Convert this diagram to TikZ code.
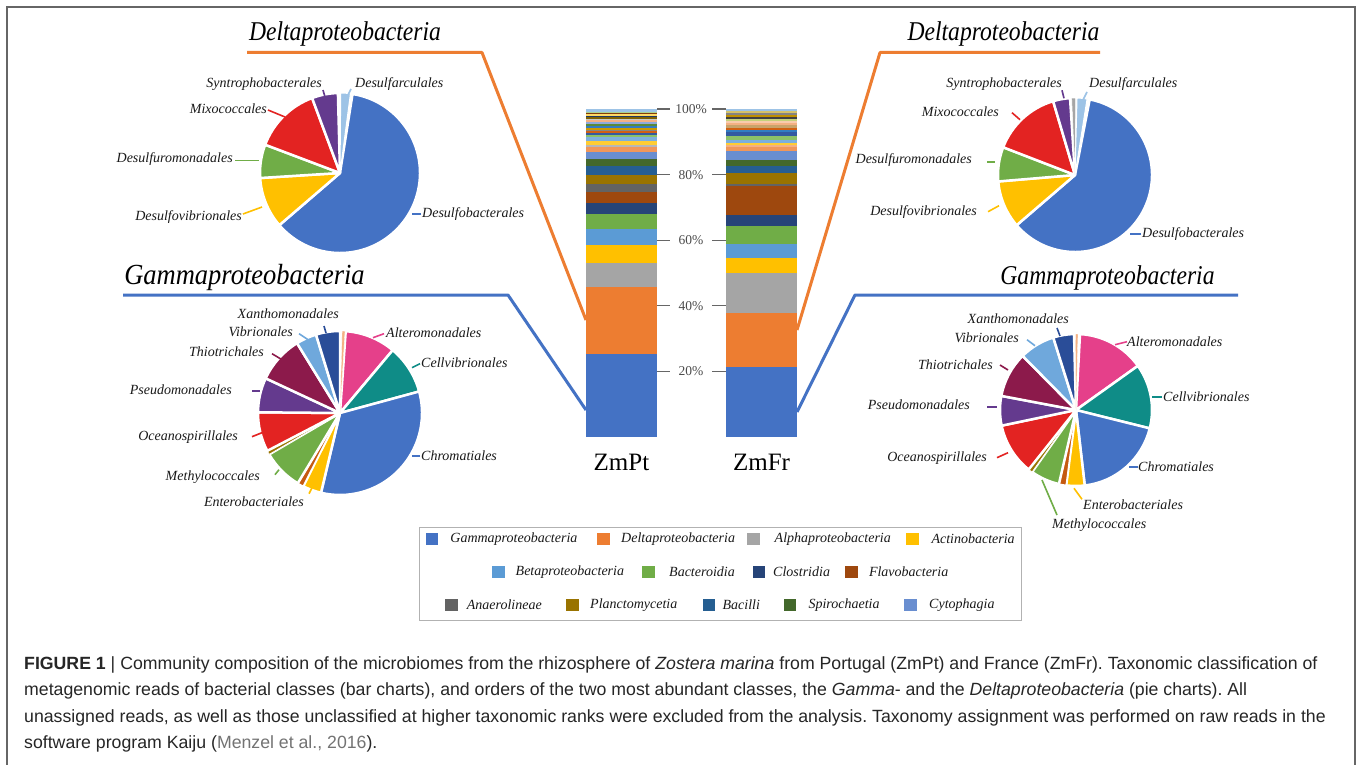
\documentclass[tikz,border=0pt]{standalone}
\usepackage{fontspec}
\setmainfont{Liberation Serif}
\setsansfont{Liberation Sans}

\definecolor{cgam}{HTML}{4472C4}
\definecolor{cdel}{HTML}{ED7D31}
\definecolor{calp}{HTML}{A5A5A5}
\definecolor{cact}{HTML}{FFC000}
\definecolor{cbet}{HTML}{5B9BD5}
\definecolor{cbac}{HTML}{70AD47}
\definecolor{cclo}{HTML}{264478}
\definecolor{cfla}{HTML}{9E480E}
\definecolor{cana}{HTML}{636363}
\definecolor{cpla}{HTML}{997300}
\definecolor{cbai}{HTML}{255E91}
\definecolor{cspi}{HTML}{43682B}
\definecolor{ccyt}{HTML}{698ED0}
\definecolor{pred}{HTML}{E32322}
\definecolor{ppur}{HTML}{643A8E}
\definecolor{plbl}{HTML}{9DC3E6}
\definecolor{ppink}{HTML}{E5408A}
\definecolor{pteal}{HTML}{0F8C87}
\definecolor{pbrn}{HTML}{C55A11}
\definecolor{pmar}{HTML}{8C1A4B}
\definecolor{pvib}{HTML}{6FA8DC}
\definecolor{pnav}{HTML}{2A4D98}
\definecolor{ppea}{HTML}{F4B183}
\definecolor{s1}{HTML}{F1975A}
\definecolor{s2}{HTML}{B7B7B7}
\definecolor{s3}{HTML}{FFCD33}
\definecolor{s4}{HTML}{7CAFDD}
\definecolor{s5}{HTML}{8CC168}
\definecolor{s6}{HTML}{335AA1}
\definecolor{s7}{HTML}{D26012}
\definecolor{s8}{HTML}{848484}
\definecolor{s9}{HTML}{CC9A00}
\definecolor{s10}{HTML}{327DC2}
\definecolor{s11}{HTML}{5A8A39}
\definecolor{s12}{HTML}{8FAADC}
\definecolor{s13}{HTML}{F4B183}
\definecolor{s14}{HTML}{C9C9C9}
\definecolor{s15}{HTML}{7F6000}
\definecolor{s16}{HTML}{1F3864}
\definecolor{s17}{HTML}{FFD966}
\definecolor{s18}{HTML}{843C0C}
\definecolor{s19}{HTML}{A9D18E}
\definecolor{s20}{HTML}{9DC3E6}
\definecolor{s21}{HTML}{F8CBAD}
\definecolor{s22}{HTML}{404040}
\definecolor{s23}{HTML}{BF9000}
\definecolor{s24}{HTML}{D4C36A}
\definecolor{s25}{HTML}{C9A36B}
\definecolor{s26}{HTML}{C5D27A}

\newcommand{\piepart}[6]{%
  \fill[#5,draw=white,line width=#6,line join=round] (#1) -- ++({-(#3)}:#2)
    arc[start angle={-(#3)}, end angle={-(#4)}, radius=#2] -- cycle;}

\begin{document}
\begin{tikzpicture}[x=1pt,y=-1pt,
    lbl/.style={font=\fontsize{14}{16}\selectfont\itshape,text=black!90,inner sep=0pt},
    ttl/.style={font=\fontsize{23.6}{26}\selectfont\itshape,inner sep=0pt},
    ldr/.style={line width=1.6pt},
    dline/.style={line width=3pt,line join=round},
    axl/.style={font=\fontsize{13.5}{15}\selectfont,text=black!70,inner sep=0pt},
    tick/.style={black!60,line width=1.2pt},
    leg/.style={font=\fontsize{14}{16}\selectfont\itshape,text=black!90,inner sep=0pt},
    captxt/.style={font=\sffamily\fontsize{17.7}{20}\selectfont\frenchspacing,text=black!85,inner sep=0pt}]
    \fill[white] (0,0) rectangle (1360,765);
    \useasboundingbox (0,0) rectangle (1360,765);
    \draw[black!60,line width=1.3pt] (7,765) -- (7,7) -- (1355,7) -- (1355,765);

    \foreach \lo/\hi/\c in {0/25.3/cgam,25.3/45.6/cdel,45.6/53.1/calp,53.1/58.6/cact,58.6/63.5/cbet,
        63.5/67.9/cbac,67.9/71.3/cclo,71.3/74.6/cfla,74.6/77.2/cana,77.2/80.0/cpla,80.0/82.6/cbai,
        82.6/84.9/cspi,84.9/86.9/ccyt,86.9/88.4/s1,88.4/89.0/s2,89.0/90.3/s3,90.3/91.6/s4,91.6/92.2/s5,
        92.2/92.7/s6,92.7/93.2/s7,93.2/93.7/s8,93.7/94.3/s9,94.3/94.8/s10,94.8/95.3/s11,95.3/95.9/s12,
        95.9/96.5/s13,96.5/97.0/s14,97.0/97.5/s15,97.5/98.0/s16,98.0/98.4/s17,98.4/98.8/s18,
        98.8/99.2/s19,99.2/100/s20}
        \fill[\c] (586,{437-3.28*\lo}) rectangle (657,{437-3.28*\hi});
    \foreach \lo/\hi/\c in {0/21.4/cgam,21.4/37.9/cdel,37.9/50.1/calp,50.1/54.5/cact,54.5/58.8/cbet,
        58.8/64.3/cbac,64.3/67.6/cclo,67.6/76.5/cfla,76.5/77.0/cana,77.0/80.5/cpla,80.5/82.5/cbai,
        82.5/84.5/cspi,84.5/87.3/ccyt,87.3/88.3/s1,88.3/88.9/s13,88.9/89.5/s3,89.5/90.7/s4,90.7/91.7/s5,
        91.7/93.0/s6,93.0/93.7/s10,93.7/94.3/s7,94.3/95.0/s25,95.0/95.7/s13,95.7/96.3/s21,96.3/96.9/s26,
        96.9/97.5/s22,97.5/98.2/s23,98.2/98.7/s8,98.7/99.5/s24,99.5/100/s20}
        \fill[\c] (726,{437-3.28*\lo}) rectangle (797,{437-3.28*\hi});
    \foreach \p in {20,40,60,80,100} {
        \draw[tick] (657,{437-3.28*\p}) -- (670,{437-3.28*\p});
        \draw[tick] (712,{437-3.28*\p}) -- (726,{437-3.28*\p});
        \node[axl] (ax\p) at (691,{437-3.28*\p}) {\p\%};
    }
    \node[font=\fontsize{25}{28}\selectfont,inner sep=0pt] (nPt) at (621.5,462) {ZmPt};
    \node[font=\fontsize{25}{28}\selectfont,inner sep=0pt] (nFr) at (761.5,462) {ZmFr};

    \node[ttl] (tDL) at (345,34) {\scalebox{1}[1.15]{Deltaproteobacteria}};
    \node[ttl,font=\fontsize{26.5}{29}\selectfont\itshape] (tGL) at (244.5,277) {\scalebox{1}[1.1]{Gammaproteobacteria}};
    \node[ttl] (tDR) at (1003.5,34) {\scalebox{1}[1.15]{Deltaproteobacteria}};
    \node[ttl] (tGR) at (1107.5,278) {\scalebox{1}[1.15]{Gammaproteobacteria}};
    \coordinate (uDL) at (247,52.5);  \coordinate (kDL) at (482,52.5); \coordinate (bDL) at (586,320);
    \coordinate (uGL) at (123,295);   \coordinate (kGL) at (508,295);  \coordinate (bGL) at (586,410);
    \coordinate (uDR) at (1100,52.5); \coordinate (kDR) at (880,52.5); \coordinate (bDR) at (797,330);
    \coordinate (uGR) at (1238,295);  \coordinate (kGR) at (855,295);  \coordinate (bGR) at (797,412);
    \draw[dline,cdel] (uDL) -- (kDL) -- (bDL);
    \draw[dline,cgam] (uGL) -- (kGL) -- (bGL);
    \draw[dline,cdel] (uDR) -- (kDR) -- (bDR);
    \draw[dline,cgam] (uGR) -- (kGR) -- (bGR);

    \coordinate (cLD) at (340,173);
    \foreach \a/\b/\c/\w in {81/-139.3/cgam/2.5pt,-139.3/-176.4/cact/2.5pt,-176.4/-200.7/cbac/2.5pt,
        -200.7/-249.6/pred/2.5pt,-249.6/-268.5/ppur/2.5pt,-270.5/-277.5/plbl/1pt}
        {\piepart{cLD}{80}{\a}{\b}{\c}{\w}}
    \coordinate (cLG) at (340,413);
    \foreach \a/\b/\c/\w in {86/50/ppink/2.5pt,50/15.2/pteal/2.5pt,15.2/-103.4/cgam/2.5pt,
        -103.4/-116.6/cact/2.5pt,-116.6/-121/pbrn/1.5pt,-121/-149.7/cbac/2.5pt,-149.7/-152.5/cpla/0.8pt,
        -152.5/-180.5/pred/2.5pt,-180.5/-205/ppur/2.5pt,-205/-238.4/pmar/2.5pt,-238.4/-253/pvib/2.5pt,
        -253/-270/pnav/2.5pt,-271.5/-273.5/ppea/0.3pt}
        {\piepart{cLG}{82}{\a}{\b}{\c}{\w}}
    \coordinate (cRD) at (1075,175);
    \foreach \a/\b/\c/\w in {79/-139.3/cgam/2.5pt,-139.3/-175.2/cact/2.5pt,-175.2/-201.1/cbac/2.5pt,
        -201.1/-253.5/pred/2.5pt,-253.5/-266.3/ppur/2.5pt,-267.5/-270.5/calp/0.5pt,-271.5/-279/plbl/1pt}
        {\piepart{cRD}{77}{\a}{\b}{\c}{\w}}
    \coordinate (cRG) at (1076,410);
    \foreach \a/\b/\c/\w in {87/35.5/ppink/2.5pt,35.5/-14/pteal/2.5pt,-14/-83.4/cgam/2.5pt,
        -83.4/-97.4/cact/2.5pt,-97.4/-103/pbrn/1.5pt,-103/-125.3/cbac/2.5pt,-125.3/-128.5/cpla/0.8pt,
        -128.5/-168.1/pred/2.5pt,-168.1/-190.7/ppur/2.5pt,-190.7/-225.4/pmar/2.5pt,-225.4/-252.6/pvib/2.5pt,
        -252.6/-268.5/pnav/2.5pt,-269.5/-271.5/ppea/0.3pt}
        {\piepart{cRG}{76}{\a}{\b}{\c}{\w}}

    \node[lbl,anchor=east] (ldSyn) at (322,84) {Syntrophobacterales};
    \draw[ldr,ppur] (ldSyn.east) ++(1,6) -- ++(2,7);
    \node[lbl,anchor=west] (ldDfc) at (355,84) {Desulfarculales};
    \draw[ldr,plbl] (ldDfc.west) ++(-4,5) -- ++(-4,8);
    \node[lbl,anchor=east] (ldMix) at (267,109) {Mixococcales};
    \draw[ldr,pred] (ldMix.east) ++(1,1) -- ++(17,7);
    \node[lbl,anchor=east] (ldDfm) at (233,159) {Desulfuromonadales};
    \draw[ldr,cbac] (ldDfm.east) ++(2,1.5) -- ++(24,0);
    \node[lbl,anchor=east] (ldDfv) at (242,217) {Desulfovibrionales};
    \draw[ldr,cact] (ldDfv.east) ++(1,-3) -- ++(19,-7);
    \node[lbl,anchor=west] (ldDfb) at (422,214) {Desulfobacterales};
    \draw[ldr,cgam] (ldDfb.west) ++(-1,0) -- ++(-9,0);

    \node[lbl,anchor=east] (lgXan) at (339,314) {Xanthomonadales};
    \draw[ldr,pnav] (lgXan.east) ++(-15,12) -- ++(2,7);
    \node[lbl,anchor=east] (lgVib) at (293,331.7) {Vibrionales};
    \draw[ldr,pvib] (lgVib.east) ++(6,2) -- ++(9,6);
    \node[lbl,anchor=east] (lgThi) at (264,351.7) {Thiotrichales};
    \draw[ldr,pmar] (lgThi.east) ++(8,2) -- ++(10,6);
    \node[lbl,anchor=east] (lgPse) at (232,390) {Pseudomonadales};
    \draw[ldr,ppur] (lgPse.east) ++(20,1) -- ++(8,0);
    \node[lbl,anchor=east] (lgOce) at (238,436.7) {Oceanospirillales};
    \draw[ldr,pred] (lgOce.east) ++(14,0) -- ++(10,-4);
    \node[lbl,anchor=east] (lgMet) at (260,476.7) {Methylococcales};
    \draw[ldr,cbac] (lgMet.east) ++(15,-2) -- ++(4,-5);
    \node[lbl,anchor=east] (lgEnt) at (304,501.7) {Enterobacteriales};
    \draw[ldr,cact] (lgEnt.east) ++(5,-8) -- ++(3,-6);
    \node[lbl,anchor=west] (lgChr) at (421,456) {Chromatiales};
    \draw[ldr,cgam] (lgChr.west) ++(-1,0) -- ++(-8,0);
    \node[lbl,anchor=west] (lgCel) at (421,362.7) {Cellvibrionales};
    \draw[ldr,pteal] (lgCel.west) ++(-1,1) -- ++(-8,4);
    \node[lbl,anchor=west] (lgAlt) at (386,332.7) {Alteromonadales};
    \draw[ldr,ppink] (lgAlt.west) ++(-2,1) -- ++(-11,4);

    \node[lbl,anchor=east] (rdSyn) at (1062,84.3) {Syntrophobacterales};
    \draw[ldr,ppur] (rdSyn.east) ++(0,6) -- ++(2,8);
    \node[lbl,anchor=west] (rdDfc) at (1089,84) {Desulfarculales};
    \draw[ldr,plbl] (rdDfc.west) ++(-2,8) -- ++(-4,8);
    \node[lbl,anchor=east] (rdMix) at (999,111.7) {Mixococcales};
    \draw[ldr,pred] (rdMix.east) ++(13,1) -- ++(8,7);
    \node[lbl,anchor=east] (rdDfm) at (972,160) {Desulfuromonadales};
    \draw[ldr,cbac] (rdDfm.east) ++(15,2) -- ++(8,0);
    \node[lbl,anchor=east] (rdDfv) at (977,211.7) {Desulfovibrionales};
    \draw[ldr,cact] (rdDfv.east) ++(11,0) -- ++(11,-6);
    \node[lbl,anchor=west] (rdDfb) at (1142,234) {Desulfobacterales};
    \draw[ldr,cgam] (rdDfb.west) ++(-1,0) -- ++(-11,0);

    \node[lbl,anchor=east] (rgXan) at (1069,319) {Xanthomonadales};
    \draw[ldr,pnav] (rgXan.east) ++(-12,9) -- ++(3,8);
    \node[lbl,anchor=east] (rgVib) at (1019,337.7) {Vibrionales};
    \draw[ldr,pvib] (rgVib.east) ++(8,2) -- ++(8,6);
    \node[lbl,anchor=east] (rgThi) at (993,365) {Thiotrichales};
    \draw[ldr,pmar] (rgThi.east) ++(7,0) -- ++(8,5);
    \node[lbl,anchor=east] (rgPse) at (970,405) {Pseudomonadales};
    \draw[ldr,ppur] (rgPse.east) ++(17,2) -- ++(10,0);
    \node[lbl,anchor=east] (rgOce) at (987,457.7) {Oceanospirillales};
    \draw[ldr,pred] (rgOce.east) ++(10,0) -- ++(11,-5);
    \node[lbl,anchor=west] (rgMet) at (1052,525) {Methylococcales};
    \draw[ldr,cbac] (rgMet.west) ++(5,-10) -- ++(-15,-35);
    \node[lbl,anchor=west] (rgEnt) at (1083,504.3) {Enterobacteriales};
    \draw[ldr,cact] (rgEnt.west) ++(-1,-5) -- ++(-8,-11);
    \node[lbl,anchor=west] (rgChr) at (1138,466.7) {Chromatiales};
    \draw[ldr,cgam] (rgChr.west) -- ++(-9,0);
    \node[lbl,anchor=west] (rgCel) at (1163,396.7) {Cellvibrionales};
    \draw[ldr,pteal] (rgCel.west) ++(-1,0) -- ++(-10,0);
    \node[lbl,anchor=west] (rgAlt) at (1127,341.7) {Alteromonadales};
    \draw[ldr,ppink] (rgAlt.west) -- ++(-12,3);

    \draw[black!30,line width=1pt] (419,527) rectangle (1021,620);
    \foreach \sx/\tx/\ry/\c/\t in {425.6/450.2/539/cgam/Gammaproteobacteria,597.4/621/539/cdel/Deltaproteobacteria,
        747.2/774.5/539/calp/Alphaproteobacteria,906/931.3/539/cact/Actinobacteria,
        492/515.5/572/cbet/Betaproteobacteria,642/669/572/cbac/Bacteroidia,752.5/773/572/cclo/Clostridia,
        845.4/868.8/572/cfla/Flavobacteria,445/466.6/605/cana/Anaerolineae,566/590/605/cpla/Planctomycetia,
        702.9/722.4/605/cbai/Bacilli,783.7/808.3/605/cspi/Spirochaetia,904/929/605/ccyt/Cytophagia} {
        \fill[\c] (\sx,\ry-6.25) rectangle ++(12.5,12.5);
        \node[leg,anchor=west] (key\t) at (\tx,\ry) {\t};
    }

    \node[captxt,anchor=base west] (cap1) at (24,669) {\textbf{FIGURE 1} | Community composition of the microbiomes from the rhizosphere of \textit{Zostera marina} from Portugal (ZmPt) and France (ZmFr). Taxonomic classification of};
    \node[captxt,anchor=base west] (cap2) at (24,695.5) {metagenomic reads of bacterial classes (bar charts), and orders of the two most abundant classes, the \textit{Gamma}- and the \textit{Deltaproteobacteria} (pie charts). All};
    \node[captxt,anchor=base west] (cap3) at (24,722) {unassigned reads, as well as those unclassified at higher taxonomic ranks were excluded from the analysis. Taxonomy assignment was performed on raw reads in the};
    \node[captxt,anchor=base west] (cap4) at (24,748.5) {software program Kaiju ({\color{black!55}Menzel et al., 2016}).};
\end{tikzpicture}
\end{document}
